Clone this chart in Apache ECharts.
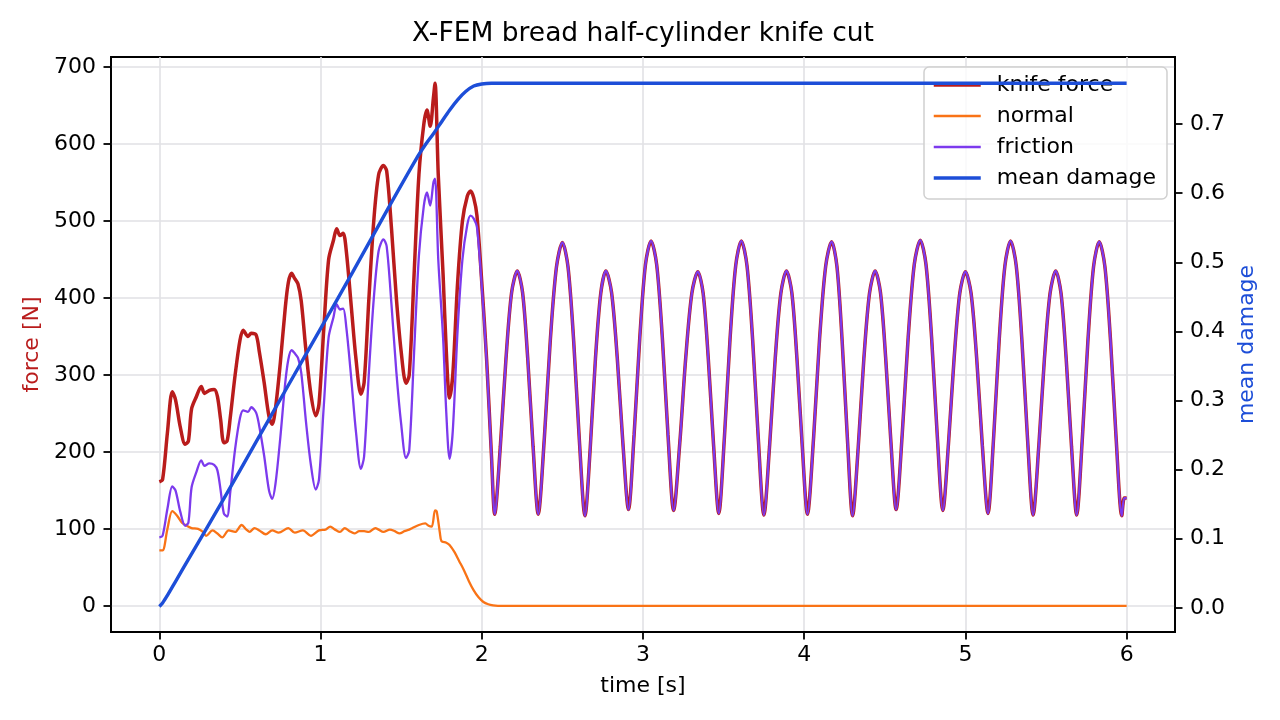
<!DOCTYPE html>
<html>
<head>
<meta charset="utf-8">
<title>X-FEM bread half-cylinder knife cut</title>
<script src="https://cdn.jsdelivr.net/npm/echarts@6/dist/echarts.min.js"></script>
<style>
  html, body { margin: 0; padding: 0; background: #fff; }
  #chart { width: 1280px; height: 720px; }
</style>
</head>
<body>
<div id="chart"></div>
<script>
// loading phase (0 - 2.08 s): knife force and its friction part
const earlyTime = [
  0.00, 0.02, 0.05, 0.08, 0.10, 0.13, 0.16, 0.18, 0.20, 0.23, 0.26, 0.28, 0.31, 0.34, 0.36, 0.38,
  0.40, 0.42, 0.44, 0.47, 0.50, 0.52, 0.55, 0.57, 0.60, 0.62, 0.65, 0.68, 0.70, 0.72, 0.75, 0.78,
  0.80, 0.82, 0.84, 0.86, 0.88, 0.91, 0.94, 0.97, 0.99, 1.02, 1.05, 1.08, 1.10, 1.12, 1.14, 1.16,
  1.19, 1.22, 1.25, 1.27, 1.30, 1.33, 1.36, 1.39, 1.41, 1.44, 1.47, 1.50, 1.53, 1.55, 1.58, 1.61,
  1.64, 1.66, 1.68, 1.70, 1.71, 1.73, 1.76, 1.78, 1.80, 1.82, 1.85, 1.88, 1.91, 1.93, 1.95, 1.97,
  2.00, 2.03, 2.06
];
const knifeEarly = [
  161, 164, 225, 278, 268, 232, 210, 214, 256, 272, 285, 276, 280, 281, 272, 242,
  212, 214, 245, 300, 345, 358, 350, 354, 352, 330, 290, 246, 236, 256, 315, 385,
  420, 432, 425, 418, 396, 330, 275, 247, 262, 360, 450, 475, 490, 481, 484, 460,
  390, 320, 275, 290, 400, 500, 560, 572, 565, 490, 400, 330, 289, 300, 430, 560,
  625, 644, 623, 660, 679, 560, 430, 330, 270, 300, 420, 500, 532, 539, 530, 507,
  420, 320, 195
];
const frictionEarly = [
  89, 91, 126, 155, 150, 122, 104, 108, 154, 174, 189, 182, 185, 183, 176, 150,
  120, 116, 148, 204, 244, 254, 252, 258, 251, 233, 195, 150, 139, 158, 218, 288,
  320, 332, 328, 322, 303, 238, 183, 151, 164, 260, 349, 375, 392, 385, 386, 361,
  296, 225, 178, 194, 304, 399, 461, 476, 467, 391, 304, 236, 192, 202, 329, 455,
  519, 537, 520, 550, 555, 450, 348, 250, 191, 227, 358, 450, 495, 507, 503, 492,
  415, 318, 194
];

// after the cut (2.08 - 6 s): knife force and friction coincide
const oscTime = [
  2.08, 2.115, 2.15, 2.185, 2.22, 2.253, 2.285, 2.318, 2.35, 2.388, 2.425, 2.463, 2.50, 2.535, 2.57, 2.605,
  2.64, 2.673, 2.705, 2.738, 2.77, 2.805, 2.84, 2.875, 2.91, 2.945, 2.98, 3.015, 3.05, 3.085, 3.12, 3.155,
  3.19, 3.228, 3.265, 3.303, 3.34, 3.373, 3.405, 3.438, 3.47, 3.505, 3.54, 3.575, 3.61, 3.645, 3.68, 3.715,
  3.75, 3.785, 3.82, 3.855, 3.89, 3.923, 3.955, 3.988, 4.02, 4.058, 4.095, 4.133, 4.17, 4.203, 4.235, 4.268,
  4.30, 4.335, 4.37, 4.405, 4.44, 4.473, 4.505, 4.538, 4.57, 4.608, 4.645, 4.683, 4.72, 4.755, 4.79, 4.825,
  4.86, 4.895, 4.93, 4.965, 5.00, 5.035, 5.07, 5.105, 5.14, 5.175, 5.21, 5.245, 5.28, 5.315, 5.35, 5.385,
  5.42, 5.455, 5.49, 5.525, 5.56, 5.593, 5.625, 5.658, 5.69, 5.725, 5.76, 5.795, 5.83, 5.865, 5.90, 5.935,
  5.97, 5.985, 6.00
];
const oscForce = [
  119, 207, 321, 407, 435, 407, 321, 207, 119, 218, 345, 440, 472, 440, 344, 216,
  117, 206, 321, 406, 435, 407, 323, 212, 125, 223, 348, 443, 474, 443, 348, 222,
  124, 211, 322, 406, 434, 406, 321, 208, 120, 219, 347, 442, 474, 442, 346, 218,
  118, 207, 321, 406, 435, 407, 321, 207, 119, 218, 346, 441, 473, 441, 345, 217,
  117, 206, 321, 406, 435, 407, 323, 212, 125, 223, 349, 444, 475, 444, 349, 222,
  124, 211, 322, 406, 434, 406, 321, 208, 120, 219, 347, 442, 474, 442, 346, 218,
  118, 207, 321, 406, 435, 406, 321, 207, 118, 217, 345, 441, 473, 441, 345, 217,
  117, 140, 140
];

// normal force
const normalTime = [
  0.00, 0.02, 0.05, 0.08, 0.11, 0.14, 0.17, 0.20, 0.24, 0.27, 0.29, 0.33, 0.36, 0.39, 0.43, 0.47,
  0.51, 0.54, 0.56, 0.59, 0.62, 0.66, 0.70, 0.74, 0.80, 0.84, 0.89, 0.94, 0.99, 1.03, 1.06, 1.09,
  1.12, 1.15, 1.18, 1.21, 1.24, 1.27, 1.30, 1.34, 1.36, 1.39, 1.43, 1.46, 1.49, 1.52, 1.55, 1.57,
  1.61, 1.65, 1.67, 1.69, 1.71, 1.72, 1.74, 1.75, 1.78, 1.80, 1.83, 1.86, 1.89, 1.92, 1.95, 1.98,
  2.01, 2.04, 2.07, 2.10, 6.00
];
const normalForce = [
  72, 72, 100, 123, 117, 108, 104, 101, 100, 96, 91, 98, 94, 89, 98, 96,
  105, 99, 96, 101, 98, 93, 98, 95, 101, 95, 98, 91, 98, 99, 103, 99,
  96, 101, 97, 94, 97, 97, 96, 101, 99, 96, 99, 97, 94, 97, 99, 101,
  105, 107, 104, 103, 124, 123, 95, 84, 82, 79, 70, 58, 46, 32, 20, 11,
  5, 2, 0.5, 0, 0
];

// mean damage (right axis)
const damageTime = [
  0.00, 0.02, 0.05, 0.10, 0.20, 0.40, 0.60, 0.80, 1.00, 1.20, 1.40, 1.60, 1.65, 1.70, 1.75, 1.80,
  1.85, 1.90, 1.95, 2.00, 2.06, 6.00
];
const meanDamage = [
  0.002, 0.007, 0.018, 0.038, 0.078, 0.158, 0.240, 0.322, 0.404, 0.486, 0.570, 0.652, 0.670, 0.686, 0.703, 0.720,
  0.735, 0.747, 0.755, 0.758, 0.759, 0.759
];

const xTicks = [0, 1, 2, 3, 4, 5, 6];
const forceTicks = [0, 100, 200, 300, 400, 500, 600, 700];
const damageTicks = [0, 0.1, 0.2, 0.3, 0.4, 0.5, 0.6, 0.7];

const FONT = 'DejaVu Sans';
const FS = 22;
const zip = (ts, vs) => ts.map((t, i) => [t, vs[i]]);

const knifeData = zip(earlyTime, knifeEarly).concat(zip(oscTime, oscForce));
const frictionData = zip(earlyTime, frictionEarly).concat(zip(oscTime, oscForce));

const axisLineStyle = { color: '#000', width: 1.8 };
const labelStyle = { fontFamily: FONT, fontSize: FS, color: '#000' };
const gridLine = { show: true, lineStyle: { color: '#e1e1e5', width: 1.6 } };

const chart = echarts.init(document.getElementById('chart'));

chart.setOption({
  animation: false,
  backgroundColor: '#fff',
  title: {
    text: 'X-FEM bread half-cylinder knife cut',
    left: 643,
    textAlign: 'center',
    top: 21,
    padding: 0,
    textStyle: { fontFamily: FONT, fontSize: 26.5, fontWeight: 'normal', color: '#000' }
  },
  grid: {
    left: 111, right: 105, top: 57, bottom: 88,
    show: true, borderColor: '#000', borderWidth: 1.8, backgroundColor: 'transparent'
  },
  legend: {
    orient: 'vertical',
    left: 924,
    top: 67,
    padding: [7, 11, 10, 8],
    itemWidth: 47,
    itemHeight: 3,
    itemGap: 9,
    itemStyle: { opacity: 0 },
    lineStyle: { width: 'inherit' },
    backgroundColor: 'rgba(255,255,255,0.8)',
    borderColor: '#d0d0d0',
    borderWidth: 1.5,
    borderRadius: 5,
    textStyle: { fontFamily: FONT, fontSize: FS, color: '#000', padding: [0, 0, 0, 11] },
    data: ['knife force', 'normal', 'friction', 'mean damage']
  },
  xAxis: {
    type: 'value',
    min: -0.3,
    max: 6.3,
    splitNumber: 6,
    name: 'time [s]',
    nameLocation: 'middle',
    nameGap: 43,
    nameTextStyle: labelStyle,
    axisLine: { show: true, onZero: false, lineStyle: axisLineStyle },
    axisTick: { show: true, length: 7.5, lineStyle: axisLineStyle, customValues: xTicks },
    axisLabel: Object.assign({ margin: 12, customValues: xTicks }, labelStyle),
    splitLine: gridLine
  },
  yAxis: [
    {
      type: 'value',
      position: 'left',
      min: -34,
      max: 713,
      splitNumber: 8,
      name: 'force [N]',
      nameLocation: 'middle',
      nameGap: 68,
      nameRotate: 90,
      nameTextStyle: { fontFamily: FONT, fontSize: FS, color: '#b91c1c' },
      axisLine: { show: true, onZero: false, lineStyle: axisLineStyle },
      axisTick: { show: true, length: 7.5, lineStyle: axisLineStyle, customValues: forceTicks },
      axisLabel: Object.assign({ margin: 15, customValues: forceTicks }, labelStyle),
      splitLine: gridLine
    },
    {
      type: 'value',
      position: 'right',
      min: -0.035,
      max: 0.797,
      splitNumber: 8,
      name: 'mean damage',
      nameLocation: 'middle',
      nameGap: 58,
      nameRotate: 90,
      nameTextStyle: { fontFamily: FONT, fontSize: FS, color: '#1d4ed8' },
      axisLine: { show: true, onZero: false, lineStyle: axisLineStyle },
      axisTick: { show: true, length: 7.5, lineStyle: axisLineStyle, customValues: damageTicks },
      axisLabel: Object.assign({
        margin: 15,
        customValues: damageTicks,
        formatter: v => v.toFixed(1)
      }, labelStyle),
      splitLine: { show: false }
    }
  ],
  series: [
    {
      name: 'knife force', type: 'line', xAxisIndex: 0, yAxisIndex: 0,
      data: knifeData, symbol: 'none', showSymbol: false, smooth: 0.3,
      lineStyle: { color: '#b91c1c', width: 3.5 }, itemStyle: { color: '#b91c1c' }, z: 2
    },
    {
      name: 'normal', type: 'line', xAxisIndex: 0, yAxisIndex: 0,
      data: zip(normalTime, normalForce), symbol: 'none', showSymbol: false, smooth: 0.3,
      lineStyle: { color: '#f97316', width: 2.3 }, itemStyle: { color: '#f97316' }, z: 2
    },
    {
      name: 'friction', type: 'line', xAxisIndex: 0, yAxisIndex: 0,
      data: frictionData, symbol: 'none', showSymbol: false, smooth: 0.3,
      lineStyle: { color: '#7c3aed', width: 2.3 }, itemStyle: { color: '#7c3aed' }, z: 2
    },
    {
      // second axes sits above the legend, as in the original figure
      name: 'mean damage', type: 'line', xAxisIndex: 0, yAxisIndex: 1,
      data: zip(damageTime, meanDamage), symbol: 'none', showSymbol: false, smooth: 0.3,
      lineStyle: { color: '#1d4ed8', width: 3.4 }, itemStyle: { color: '#1d4ed8' }, z: 10
    }
  ]
});
</script>
</body>
</html>
